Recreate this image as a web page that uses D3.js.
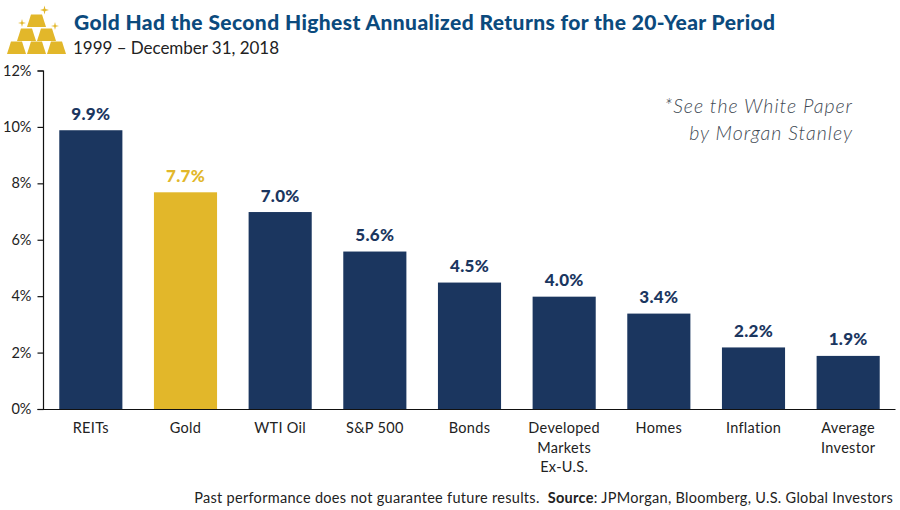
<!DOCTYPE html>
<html>
<head>
<meta charset="utf-8">
<script src="https://cdn.jsdelivr.net/npm/d3@7"></script>
<style>
body { margin: 0; background: #fff; }
svg { display: block; }
text { font-family: Lato, "Open Sans", sans-serif; }
</style>
</head>
<body>
<div id="svg"></div>
<script>
const categories = ["REITs", "Gold", "WTI Oil", "S&P 500", "Bonds", "Developed|Markets|Ex-U.S.", "Homes", "Inflation", "Average|Investor"]
const returns = [9.9, 7.7, 7.0, 5.6, 4.5, 4.0, 3.4, 2.2, 1.9]
const yTicks = [0, 2, 4, 6, 8, 10, 12]
const highlighted = "Gold"

const navy = "#1b365f", gold = "#e2b72a", ink = "#222"

let width = 900,
    height = 510,
    svg = d3.select("#svg").append("svg")
        .attr("width", width)
        .attr("height", height)

let x = d3.scaleBand().domain(categories).range([43.5, 895.5]).paddingInner(1 / 3).paddingOuter(1 / 6)
let y = d3.scaleLinear().domain([0, 12]).range([409.5, 71])

//BARS
svg.append("g").selectAll("rect")
    .data(categories)
    .enter().append("rect")
    .attr("x", d => x(d))
    .attr("y", (d, i) => y(returns[i]))
    .attr("width", x.bandwidth())
    .attr("height", (d, i) => y(0) - y(returns[i]))
    .attr("fill", d => d === highlighted ? gold : navy)

//VALUE LABELS
svg.append("g").selectAll("text")
    .data(categories)
    .enter().append("text")
    .attr("x", d => x(d) + x.bandwidth() / 2)
    .attr("y", (d, i) => y(returns[i]) - 10.5)
    .attr("text-anchor", "middle")
    .attr("font-size", 17)
    .attr("font-weight", 900)
    .attr("letter-spacing", 0.3)
    .attr("fill", d => d === highlighted ? gold : navy)
    .text((d, i) => returns[i].toFixed(1) + "%")

//Y AXIS
let yAxis = svg.append("g")
    .attr("transform", "translate(43.5,0)")
    .call(d3.axisLeft(y).tickValues(yTicks).tickSize(6).tickPadding(6).offset(0).tickFormat(d => d + "%"))
yAxis.selectAll("text").attr("font-size", 14.5).attr("fill", ink).style("font-family", "Lato")
yAxis.selectAll("line").attr("stroke", "#111").attr("stroke-width", 1.2)
yAxis.select(".domain").attr("stroke", "#111").attr("stroke-width", 1.2)

//X AXIS
let xAxis = svg.append("g")
    .attr("transform", "translate(0,409.5)")
    .call(d3.axisBottom(x).tickSize(0).offset(0).tickFormat(""))
xAxis.select(".domain").attr("stroke", "#111").attr("stroke-width", 1.2)

let xLabels = svg.append("g").selectAll("text")
    .data(categories)
    .enter().append("text")
    .attr("text-anchor", "middle")
    .attr("font-size", 14.5)
    .attr("letter-spacing", 0.3)
    .attr("fill", ink)
xLabels.each(function (d) {
    d3.select(this).selectAll("tspan")
        .data(d.split("|"))
        .enter().append("tspan")
        .attr("x", x(d) + x.bandwidth() / 2)
        .attr("y", (l, i) => 433 + i * 19.5)
        .text(l => l)
})

//TITLE
svg.append("text").attr("x", 74).attr("y", 30)
    .attr("font-size", 21).attr("font-weight", 900).attr("fill", "#0b4a7d")
    .attr("textLength", 701).attr("lengthAdjust", "spacing")
    .text("Gold Had the Second Highest Annualized Returns for the 20-Year Period")
svg.append("text").attr("x", 73).attr("y", 54)
    .attr("font-size", 17).attr("fill", ink)
    .attr("textLength", 206).attr("lengthAdjust", "spacing")
    .text("1999 – December 31, 2018")

//NOTE
let note = svg.append("g").attr("font-size", 19.5).attr("font-style", "italic").attr("font-weight", 300).attr("fill", "#3f4a54").attr("text-anchor", "end")
note.append("text").attr("x", 853).attr("y", 113).attr("letter-spacing", 1).text("*See the White Paper")
note.append("text").attr("x", 853).attr("y", 140).attr("letter-spacing", 1).text("by Morgan Stanley")

//FOOTER
let footer = svg.append("text").attr("x", 893).attr("y", 503).attr("text-anchor", "end")
    .attr("font-size", 14.5).attr("fill", ink).attr("letter-spacing", 0.3)
    .attr("xml:space", "preserve").style("white-space", "pre")
footer.append("tspan").text("Past performance does not guarantee future results.  ")
footer.append("tspan").attr("font-weight", 700).text("Source")
footer.append("tspan").text(": JPMorgan, Bloomberg, U.S. Global Investors")

//GOLD BARS ICON
let bars = [[7, 54], [27, 54], [47, 54], [17, 41], [37, 41], [27, 27]]
let icon = svg.append("g").attr("fill", gold)
bars.forEach(b => {
    icon.append("path").attr("d", `M${b[0] + 4},${b[1] - 12.5}h11l4,12.5h-19z`)
})
let sparks = [[44.5, 10, 4.5], [22, 23, 4], [55, 26, 4]]
sparks.forEach(s => {
    let r = s[2], q = r * 0.2
    icon.append("path").attr("d", `M${s[0]},${s[1] - r}L${s[0] + q},${s[1] - q}L${s[0] + r},${s[1]}L${s[0] + q},${s[1] + q}L${s[0]},${s[1] + r}L${s[0] - q},${s[1] + q}L${s[0] - r},${s[1]}L${s[0] - q},${s[1] - q}Z`)
})
</script>
</body>
</html>
